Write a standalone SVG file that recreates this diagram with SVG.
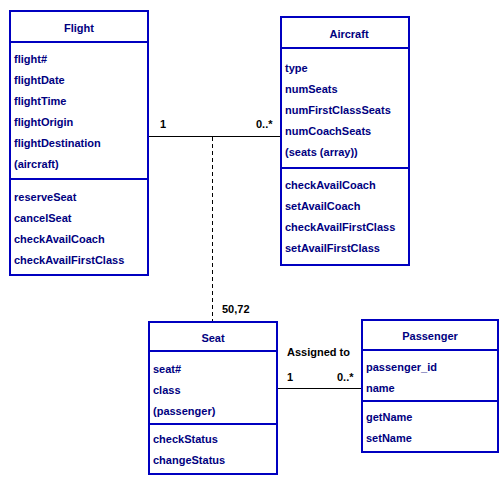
<svg xmlns="http://www.w3.org/2000/svg" width="504" height="481" viewBox="0 0 504 481">
<style>
.box{fill:#fff;stroke:#0000c0;stroke-width:2}
.sep{stroke:#0000c0;stroke-width:2}
text{font-family:"Liberation Sans",Arial,sans-serif;font-size:11px;font-weight:bold}
.t{fill:#000080}
.title{fill:#000080;text-anchor:middle}
.lbl{fill:#000}
.conn{stroke:#000;stroke-width:1;fill:none}
</style>
<rect width="504" height="481" fill="#fff"/>
<g id="connectors">
<line class="conn" x1="149" y1="136.5" x2="280" y2="136.5"/>
<line class="conn" x1="212.5" y1="137" x2="212.5" y2="321" stroke-dasharray="4,3"/>
<line class="conn" x1="278" y1="388.5" x2="361" y2="388.5"/>
<text class="lbl" x="160" y="128">1</text>
<text class="lbl" x="256" y="128">0..*</text>
<text class="lbl" x="222" y="313">50,72</text>
<text class="lbl" x="287" y="356">Assigned to</text>
<text class="lbl" x="287" y="381">1</text>
<text class="lbl" x="337" y="381">0..*</text>
</g>
<g id="flight">
<rect class="box" x="10" y="11" width="138" height="264"/>
<line class="sep" x1="10" y1="42" x2="148" y2="42"/>
<line class="sep" x1="10" y1="179" x2="148" y2="179"/>
<text class="title" x="79" y="32">Flight</text>
<text class="t" x="14" y="63">flight#</text>
<text class="t" x="14" y="84">flightDate</text>
<text class="t" x="14" y="105">flightTime</text>
<text class="t" x="14" y="126">flightOrigin</text>
<text class="t" x="14" y="147">flightDestination</text>
<text class="t" x="14" y="168">(aircraft)</text>
<text class="t" x="14" y="201">reserveSeat</text>
<text class="t" x="14" y="222">cancelSeat</text>
<text class="t" x="14" y="243">checkAvailCoach</text>
<text class="t" x="14" y="264">checkAvailFirstClass</text>
</g>
<g id="aircraft">
<rect class="box" x="281" y="17" width="128" height="248"/>
<line class="sep" x1="281" y1="48" x2="409" y2="48"/>
<line class="sep" x1="281" y1="168" x2="409" y2="168"/>
<text class="title" x="349" y="38">Aircraft</text>
<text class="t" x="285" y="72">type</text>
<text class="t" x="285" y="93">numSeats</text>
<text class="t" x="285" y="114">numFirstClassSeats</text>
<text class="t" x="285" y="135">numCoachSeats</text>
<text class="t" x="285" y="156">(seats (array))</text>
<text class="t" x="285" y="189">checkAvailCoach</text>
<text class="t" x="285" y="210">setAvailCoach</text>
<text class="t" x="285" y="231">checkAvailFirstClass</text>
<text class="t" x="285" y="252">setAvailFirstClass</text>
</g>
<g id="seat">
<rect class="box" x="149" y="322" width="128" height="152"/>
<line class="sep" x1="149" y1="351" x2="277" y2="351"/>
<line class="sep" x1="149" y1="424" x2="277" y2="424"/>
<text class="title" x="213" y="342">Seat</text>
<text class="t" x="153" y="373">seat#</text>
<text class="t" x="153" y="394">class</text>
<text class="t" x="153" y="415">(passenger)</text>
<text class="t" x="153" y="443">checkStatus</text>
<text class="t" x="153" y="464">changeStatus</text>
</g>
<g id="passenger">
<rect class="box" x="362" y="320" width="136" height="132"/>
<line class="sep" x1="362" y1="350" x2="498" y2="350"/>
<line class="sep" x1="362" y1="401" x2="498" y2="401"/>
<text class="title" x="430" y="340">Passenger</text>
<text class="t" x="366" y="371">passenger_id</text>
<text class="t" x="366" y="392">name</text>
<text class="t" x="366" y="421">getName</text>
<text class="t" x="366" y="442">setName</text>
</g>
</svg>
